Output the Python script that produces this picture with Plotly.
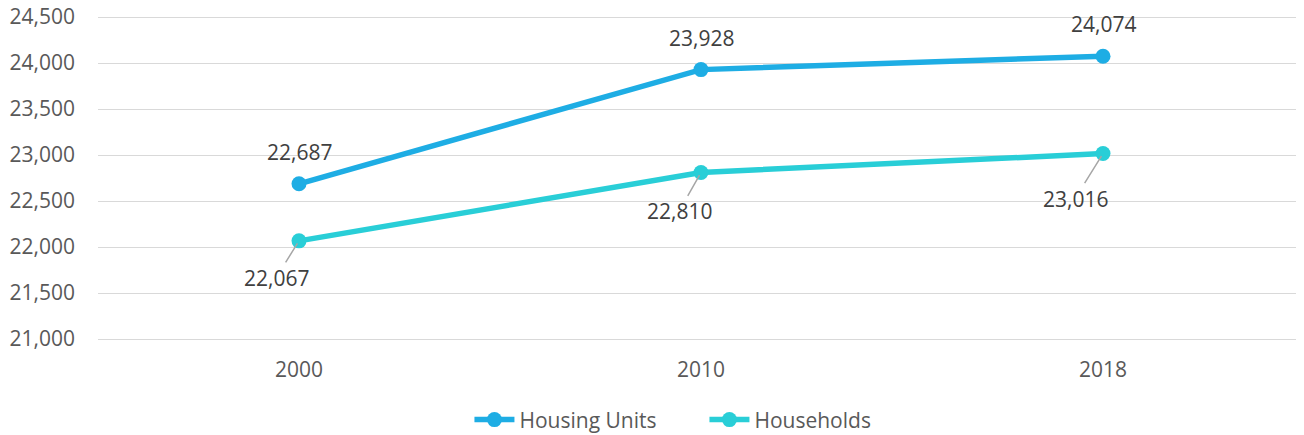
import plotly.graph_objects as go

years = ["2000", "2010", "2018"]
housing_units = [22687, 23928, 24074]
households = [22067, 22810, 23016]
y_ticks = [21000, 21500, 22000, 22500, 23000, 23500, 24000, 24500]

blue = "#1EADE4"
cyan = "#29CED7"
font_family = "Open Sans, Liberation Sans, sans-serif"

xpos = list(range(len(years)))

fig = go.Figure()
fig.add_trace(go.Scatter(x=xpos, y=housing_units, name="Housing Units", mode="lines+markers",
                         line=dict(color=blue, width=5.5), marker=dict(size=15, color=blue)))
fig.add_trace(go.Scatter(x=xpos, y=households, name="Households", mode="lines+markers",
                         line=dict(color=cyan, width=5.5), marker=dict(size=15, color=cyan)))

for x, v in zip(xpos, housing_units):
    fig.add_annotation(x=x, y=v, text=f"{v:,}", showarrow=False, yshift=32,
                       font=dict(size=21, color="#404040", family=font_family))

offsets = [(-23, 37), (-22, 39), (-28, 45)]
for x, v, (ax, ay) in zip(xpos, households, offsets):
    fig.add_annotation(x=x, y=v, text=f"{v:,}", showarrow=True, arrowhead=0, arrowwidth=1.5,
                       arrowcolor="#A6A6A6", ax=ax, ay=ay, standoff=3,
                       font=dict(size=21, color="#404040", family=font_family))

fig.update_layout(
    width=1296, height=427,
    margin=dict(l=90, r=0, t=7, b=94, autoexpand=False),
    paper_bgcolor="white", plot_bgcolor="white",
    font=dict(family=font_family, size=21, color="#595959"),
    showlegend=True,
    legend=dict(orientation="h", x=0.308, xanchor="left", y=-0.305, yanchor="bottom",
                font=dict(size=21, color="#595959"), itemwidth=40,
                entrywidth=180, entrywidthmode="pixels"),
    xaxis=dict(range=[-0.5, 2.5], tickvals=xpos, ticktext=years, showgrid=False, showline=False,
               zeroline=False, automargin=False, ticklabelstandoff=14,
               tickfont=dict(size=21, color="#595959")),
    yaxis=dict(range=[20978.26, 24521.74], tickvals=y_ticks, ticktext=[f"{t:,}" for t in y_ticks],
               showgrid=True, gridcolor="#D9D9D9", gridwidth=1, zeroline=False, showline=False,
               automargin=False, ticklabeloverflow="allow", ticklabelstandoff=22,
               tickfont=dict(size=21, color="#595959")),
)

fig.write_html("out.html")
